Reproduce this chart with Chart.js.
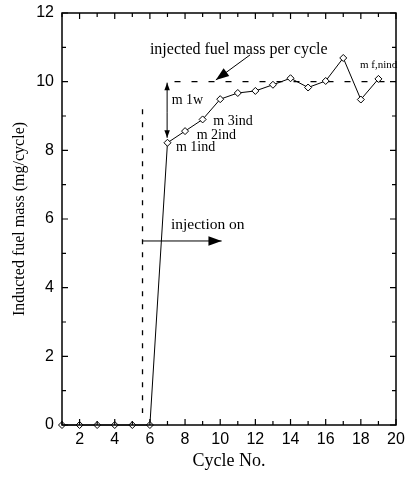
<!DOCTYPE html>
<html>
<head>
<meta charset="utf-8">
<script src="https://cdn.jsdelivr.net/npm/chart.js@4"></script>
<style>
  body { margin: 0; background: #fff; }
</style>
</head>
<body>
<canvas id="grafica" width="409" height="479"></canvas>
<script>
// datos
const ciclos = [1, 2, 3, 4, 5, 6, 7, 8, 9, 10, 11, 12, 13, 14, 15, 16, 17, 18, 19];
const masaInducida = [0, 0, 0, 0, 0, 0, 8.22, 8.56, 8.90, 9.49, 9.67, 9.73, 9.91, 10.10, 9.83, 10.02, 10.69, 9.48, 10.08];
const masaInyectada = 10;
const inicioInyectada = 7.4;
const cicloInyeccion = 5.58;
const ticksX = [2, 4, 6, 8, 10, 12, 14, 16, 18, 20];
const ticksY = [0, 2, 4, 6, 8, 10, 12];

const serif = '"Liberation Serif", "Times New Roman", serif';
const sans = '"Liberation Sans", Arial, sans-serif';

function flecha(ctx, x1, y1, x2, y2, tam) {
    const ang = Math.atan2(y2 - y1, x2 - x1);
    ctx.beginPath();
    ctx.moveTo(x1, y1);
    ctx.lineTo(x2, y2);
    ctx.stroke();
    ctx.beginPath();
    ctx.moveTo(x2, y2);
    ctx.lineTo(x2 - tam * Math.cos(ang - 0.35), y2 - tam * Math.sin(ang - 0.35));
    ctx.lineTo(x2 - tam * Math.cos(ang + 0.35), y2 - tam * Math.sin(ang + 0.35));
    ctx.closePath();
    ctx.fill();
}

const marco = {
    id: 'marco',
    beforeDraw(chart) {
        const ctx = chart.ctx;
        ctx.save();
        ctx.fillStyle = '#fff';
        ctx.fillRect(0, 0, chart.width, chart.height);
        ctx.restore();
    },
    afterDraw(chart) {
        const ctx = chart.ctx;
        const a = chart.chartArea;
        const sx = chart.scales.x;
        const sy = chart.scales.y;
        ctx.save();
        ctx.strokeStyle = '#000';
        ctx.fillStyle = '#000';
        ctx.lineWidth = 1.5;
        ctx.strokeRect(a.left, a.top, a.right - a.left, a.bottom - a.top);

        // marcas hacia dentro
        ctx.lineWidth = 1.2;
        ctx.beginPath();
        for (let v = sx.min; v <= sx.max; v++) {
            const len = ticksX.includes(v) ? 6 : 4;
            const px = sx.getPixelForValue(v);
            ctx.moveTo(px, a.bottom); ctx.lineTo(px, a.bottom - len);
            ctx.moveTo(px, a.top); ctx.lineTo(px, a.top + len);
        }
        for (let v = sy.min; v <= sy.max; v++) {
            const len = ticksY.includes(v) ? 6 : 4;
            const py = sy.getPixelForValue(v);
            ctx.moveTo(a.left, py); ctx.lineTo(a.left + len, py);
            ctx.moveTo(a.right, py); ctx.lineTo(a.right - len, py);
        }
        ctx.stroke();

        // linea discontinua vertical (inyeccion)
        ctx.lineWidth = 1.3;
        ctx.setLineDash([5, 8]);
        ctx.beginPath();
        ctx.moveTo(sx.getPixelForValue(cicloInyeccion), sy.getPixelForValue(9.2));
        ctx.lineTo(sx.getPixelForValue(cicloInyeccion), sy.getPixelForValue(0.35));
        ctx.stroke();
        ctx.setLineDash([]);

        // flechas
        ctx.lineWidth = 1;
        flecha(ctx, sx.getPixelForValue(cicloInyeccion), sy.getPixelForValue(5.36),
            sx.getPixelForValue(10.08), sy.getPixelForValue(5.36), 14);
        flecha(ctx, sx.getPixelForValue(11.7), sy.getPixelForValue(10.78),
            sx.getPixelForValue(9.75), sy.getPixelForValue(10.05), 14);
        const xm = sx.getPixelForValue(6.98);
        const ya = sy.getPixelForValue(masaInyectada);
        const yb = sy.getPixelForValue(masaInducida[6]);
        flecha(ctx, xm, (ya + yb) / 2, xm, ya + 1, 8);
        flecha(ctx, xm, (ya + yb) / 2, xm, yb - 5, 8);

        // textos
        ctx.textAlign = 'left';
        ctx.textBaseline = 'alphabetic';
        ctx.font = '16px ' + serif;
        ctx.fillText('injected fuel mass per cycle', sx.getPixelForValue(6.0), sy.getPixelForValue(10.8));
        ctx.font = '15.5px ' + serif;
        ctx.fillText('injection on', sx.getPixelForValue(7.2), sy.getPixelForValue(5.71));
        ctx.font = '14px ' + serif;
        ctx.fillText('m 1w', sx.getPixelForValue(7.24), sy.getPixelForValue(9.35));
        ctx.fillText('m 3ind', sx.getPixelForValue(9.61), sy.getPixelForValue(8.75));
        ctx.fillText('m 2ind', sx.getPixelForValue(8.66), sy.getPixelForValue(8.34));
        ctx.fillText('m 1ind', sx.getPixelForValue(7.48), sy.getPixelForValue(7.98));
        ctx.font = '11px ' + serif;
        ctx.fillText('m f,nind', sx.getPixelForValue(17.95), sy.getPixelForValue(10.39));
        ctx.restore();
    }
};

const ctx = document.getElementById('grafica').getContext('2d');
new Chart(ctx, {
    type: 'line',
    data: {
        datasets: [{
            data: ciclos.map((c, i) => ({ x: c, y: masaInducida[i] })),
            borderColor: '#000',
            borderWidth: 1,
            pointStyle: 'rectRot',
            pointRadius: 3.5,
            pointBackgroundColor: '#fff',
            pointBorderColor: '#000',
            pointBorderWidth: 1,
            tension: 0,
            clip: false
        }, {
            data: [{ x: inicioInyectada, y: masaInyectada }, { x: 20, y: masaInyectada }],
            borderColor: '#000',
            borderWidth: 1.3,
            borderDash: [6, 11],
            pointRadius: 0
        }]
    },
    options: {
        responsive: false,
        animation: false,
        layout: { padding: { top: 13, right: 13, left: 0, bottom: 0 } },
        plugins: {
            legend: { display: false },
            tooltip: { enabled: false }
        },
        scales: {
            x: {
                type: 'linear',
                min: 1,
                max: 20,
                afterBuildTicks: (s) => { s.ticks = ticksX.map(v => ({ value: v })); },
                afterFit: (s) => { s.height = 54; s.paddingLeft = 0; s.paddingRight = 0; },
                grid: { display: false, drawTicks: false },
                border: { display: false },
                ticks: { color: '#000', padding: 5, font: { family: sans, size: 16 }, maxRotation: 0 },
                title: { display: true, text: 'Cycle No.', color: '#000', padding: { top: 2, bottom: 7 }, font: { family: serif, size: 18 } }
            },
            y: {
                min: 0,
                max: 12,
                afterBuildTicks: (s) => { s.ticks = ticksY.map(v => ({ value: v })); },
                afterFit: (s) => { s.width = 62; s.paddingTop = 0; s.paddingBottom = 0; },
                grid: { display: false, drawTicks: false },
                border: { display: false },
                ticks: { color: '#000', padding: 8, font: { family: sans, size: 16 } },
                title: { display: true, text: 'Inducted fuel mass (mg/cycle)', color: '#000', padding: { top: 10, bottom: 0 }, font: { family: serif, size: 16 } }
            }
        }
    },
    plugins: [marco]
});
</script>
</body>
</html>
